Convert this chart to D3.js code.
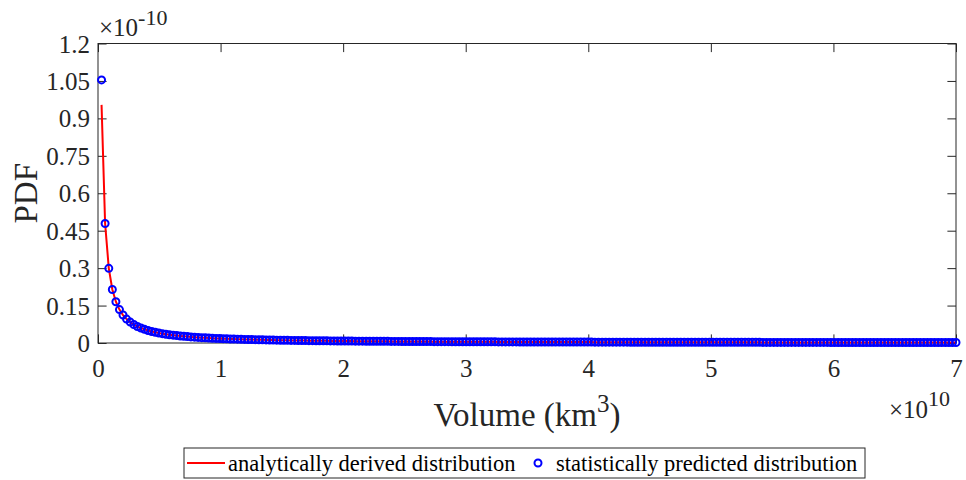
<!DOCTYPE html>
<html>
<head>
<meta charset="utf-8">
<script src="https://cdn.jsdelivr.net/npm/d3@7"></script>
<style>
  body { margin: 0; background: #fff; }
  svg { display: block; font-family: "Liberation Serif", "Times New Roman", serif; }
</style>
</head>
<body>
<svg id="chart" width="966" height="480"></svg>
<script>
// volume samples, in units of 1e10 km^3
const volume = [
  0.029,0.058,0.088,0.117,0.146,0.175,0.204,0.233,0.263,0.292,0.321,0.350,
  0.379,0.408,0.438,0.467,0.496,0.525,0.554,0.583,0.613,0.642,0.671,0.700,
  0.729,0.758,0.788,0.817,0.846,0.875,0.904,0.933,0.963,0.992,1.021,1.050,
  1.079,1.108,1.138,1.167,1.196,1.225,1.254,1.283,1.313,1.342,1.371,1.400,
  1.429,1.458,1.488,1.517,1.546,1.575,1.604,1.633,1.663,1.692,1.721,1.750,
  1.779,1.808,1.838,1.867,1.896,1.925,1.954,1.983,2.013,2.042,2.071,2.100,
  2.129,2.158,2.188,2.217,2.246,2.275,2.304,2.333,2.363,2.392,2.421,2.450,
  2.479,2.508,2.538,2.567,2.596,2.625,2.654,2.683,2.713,2.742,2.771,2.800,
  2.829,2.858,2.888,2.917,2.946,2.975,3.004,3.033,3.063,3.092,3.121,3.150,
  3.179,3.208,3.238,3.267,3.296,3.325,3.354,3.383,3.413,3.442,3.471,3.500,
  3.529,3.558,3.588,3.617,3.646,3.675,3.704,3.733,3.763,3.792,3.821,3.850,
  3.879,3.908,3.938,3.967,3.996,4.025,4.054,4.083,4.113,4.142,4.171,4.200,
  4.229,4.258,4.288,4.317,4.346,4.375,4.404,4.433,4.463,4.492,4.521,4.550,
  4.579,4.608,4.638,4.667,4.696,4.725,4.754,4.783,4.813,4.842,4.871,4.900,
  4.929,4.958,4.988,5.017,5.046,5.075,5.104,5.133,5.163,5.192,5.221,5.250,
  5.279,5.308,5.338,5.367,5.396,5.425,5.454,5.483,5.513,5.542,5.571,5.600,
  5.629,5.658,5.688,5.717,5.746,5.775,5.804,5.833,5.863,5.892,5.921,5.950,
  5.979,6.008,6.038,6.067,6.096,6.125,6.154,6.183,6.213,6.242,6.271,6.300,
  6.329,6.358,6.388,6.417,6.446,6.475,6.504,6.533,6.563,6.592,6.621,6.650,
  6.679,6.708,6.738,6.767,6.796,6.825,6.854,6.883,6.913,6.942,6.971,7.000
];

// analytically derived PDF, in units of 1e-10
const analyticPdf = [
  0.954,0.4788,0.2992,0.2143,0.1654,0.1339,0.1120,0.0959,0.0837,0.0740,
  0.0663,0.0599,0.0546,0.0501,0.0463,0.0429,0.0400,0.0374,0.0352,0.0331,
  0.0313,0.0297,0.0282,0.0268,0.0256,0.0244,0.0234,0.0224,0.0215,0.0207,
  0.0199,0.0192,0.0185,0.0179,0.0173,0.0168,0.0162,0.0157,0.0153,0.0148,
  0.0144,0.0140,0.01365,0.01329,0.01295,0.01262,0.01231,0.01201,0.01172,0.01144,
  0.01119,0.01094,0.01070,0.01047,0.01025,0.01004,0.00984,0.00964,0.00945,0.00926,
  0.00909,0.00892,0.00876,0.00860,0.00845,0.00830,0.00815,0.00801,0.00788,0.00775,
  0.00762,0.00750,0.00738,0.00727,0.00715,0.00704,0.00694,0.00683,0.00673,0.00663,
  0.00654,0.00645,0.00636,0.00627,0.00618,0.00610,0.00602,0.00594,0.00586,0.00579,
  0.00571,0.00564,0.00557,0.00550,0.00544,0.00537,0.00531,0.00524,0.00518,0.00512,
  0.00506,0.00501,0.00495,0.00490,0.00484,0.00479,0.00474,0.00469,0.00464,0.00459,
  0.00454,0.00449,0.00445,0.00440,0.00436,0.00431,0.00427,0.00423,0.00419,0.00415,
  0.00411,0.00407,0.00403,0.00399,0.00396,0.00392,0.00388,0.00385,0.00381,0.00378,
  0.00375,0.00371,0.00368,0.00365,0.00362,0.00359,0.00356,0.00353,0.00350,0.00347,
  0.00344,0.00341,0.00338,0.00336,0.00333,0.00330,0.00328,0.00325,0.00323,0.00320,
  0.00318,0.00315,0.00313,0.00310,0.00308,0.00306,0.00304,0.00301,0.00299,0.00297,
  0.00295,0.00293,0.00291,0.00289,0.00287,0.00285,0.00283,0.00281,0.00279,0.00277,
  0.00275,0.00273,0.00271,0.00269,0.00268,0.00266,0.00264,0.00262,0.00261,0.00259,
  0.00257,0.00256,0.00254,0.00253,0.00251,0.00249,0.00248,0.00246,0.00245,0.00243,
  0.00242,0.00240,0.00239,0.00237,0.00236,0.00235,0.00233,0.00232,0.00231,0.00229,
  0.00228,0.00227,0.00225,0.00224,0.00223,0.00222,0.00220,0.00219,0.00218,0.00217,
  0.00215,0.00214,0.00213,0.00212,0.00211,0.00210,0.00209,0.00207,0.00206,0.00205,
  0.00204,0.00203,0.00202,0.00201,0.00200,0.00199,0.00198,0.00197,0.00196,0.00195,
  0.00194,0.00193,0.00192,0.00191,0.00190,0.00189,0.00188,0.00187,0.00186,0.00186
];

// statistically predicted PDF: only the first sample stands apart from the curve,
// the rest sit on it
const predictedPdf = [1.054].concat(analyticPdf.slice(1));

const xTicks = [0, 1, 2, 3, 4, 5, 6, 7];
const yTicks = [0, 0.15, 0.3, 0.45, 0.6, 0.75, 0.9, 1.05, 1.2];
const yTickLabels = ['0', '0.15', '0.3', '0.45', '0.6', '0.75', '0.9', '1.05', '1.2'];

const AXIS = '#262626';
const LINE_RED = '#ff0000';
const MARK_BLUE = '#0000ff';

const svg = d3.select('#chart');
svg.append('rect').attr('width', 966).attr('height', 480).attr('fill', '#fff');

const margin = { top: 43.5, right: 10, bottom: 137, left: 98 };
const W = 966 - margin.left - margin.right;
const H = 480 - margin.top - margin.bottom;
const tick = 8.6;

const x = d3.scaleLinear().domain([0, 7]).range([0, W]);
const y = d3.scaleLinear().domain([0, 1.2]).range([H, 0]);

const g = svg.append('g').attr('transform', `translate(${margin.left},${margin.top})`);

// axes, ticks pointing inward on all four sides
const styleAxis = (sel) => {
  sel.selectAll('.domain').remove();
  sel.selectAll('.tick line').attr('stroke', AXIS).attr('stroke-width', 1);
  sel.selectAll('text').attr('fill', AXIS).attr('font-size', '25px')
    .attr('font-family', '"Liberation Serif", "Times New Roman", serif');
};

g.append('g').attr('class', 'x-axis').attr('transform', `translate(0,${H})`)
  .call(d3.axisBottom(x).tickValues(xTicks).tickFormat(d3.format('d')).tickSize(-tick).tickPadding(16))
  .call(styleAxis);
g.append('g')
  .call(d3.axisTop(x).tickValues(xTicks).tickFormat('').tickSize(-tick))
  .call(styleAxis);
g.append('g').attr('class', 'y-axis')
  .call(d3.axisLeft(y).tickValues(yTicks).tickFormat((d, i) => yTickLabels[i]).tickSize(-tick).tickPadding(8))
  .call(styleAxis);
g.append('g').attr('transform', `translate(${W},0)`)
  .call(d3.axisRight(y).tickValues(yTicks).tickFormat('').tickSize(-tick))
  .call(styleAxis);

g.selectAll('.y-axis .tick text').attr('dy', '0.34em');

g.append('rect').attr('width', W).attr('height', H)
  .attr('fill', 'none').attr('stroke', AXIS).attr('stroke-width', 1);

// analytic curve
const line = d3.line().x((d, i) => x(volume[i])).y(d => y(d));
g.append('path').datum(analyticPdf)
  .attr('d', line).attr('fill', 'none')
  .attr('stroke', LINE_RED).attr('stroke-width', 2);

// predicted markers
g.append('g').selectAll('circle').data(predictedPdf).join('circle')
  .attr('cx', (d, i) => x(volume[i])).attr('cy', d => y(d))
  .attr('r', 3.5).attr('fill', 'none')
  .attr('stroke', MARK_BLUE).attr('stroke-width', 2);

// exponent labels
const yExp = svg.append('text').attr('x', 99).attr('y', 36)
  .attr('fill', AXIS).attr('font-size', '25px');
yExp.append('tspan').text('\u00d710');
yExp.append('tspan').attr('dy', -11).attr('font-size', '22px').text('-10');

const xExp = svg.append('text').attr('x', 889).attr('y', 418)
  .attr('fill', AXIS).attr('font-size', '25px');
xExp.append('tspan').text('\u00d710');
xExp.append('tspan').attr('dy', -12).attr('font-size', '22px').text('10');

// axis titles
const xTitle = svg.append('text').attr('x', margin.left + W / 2).attr('y', 426)
  .attr('text-anchor', 'middle').attr('fill', AXIS).attr('font-size', '33px');
xTitle.append('tspan').text('Volume (km');
xTitle.append('tspan').attr('dy', -14).attr('font-size', '25px').text('3');
xTitle.append('tspan').attr('dy', 14).text(')');

svg.append('text')
  .attr('transform', `translate(37,${margin.top + H / 2}) rotate(-90)`)
  .attr('text-anchor', 'middle').attr('fill', AXIS).attr('font-size', '33px')
  .text('PDF');

// legend
const leg = svg.append('g').attr('transform', 'translate(184,448)');
leg.append('rect').attr('width', 681).attr('height', 30)
  .attr('fill', '#fff').attr('stroke', AXIS).attr('stroke-width', 1);
leg.append('line').attr('x1', 3).attr('x2', 41).attr('y1', 15).attr('y2', 15)
  .attr('stroke', LINE_RED).attr('stroke-width', 2);
leg.append('text').attr('x', 44).attr('y', 15).attr('dy', '0.34em')
  .attr('fill', '#000').attr('font-size', '22.5px').text('analytically derived distribution');
leg.append('circle').attr('cx', 354).attr('cy', 15).attr('r', 3.5)
  .attr('fill', 'none').attr('stroke', MARK_BLUE).attr('stroke-width', 2);
leg.append('text').attr('x', 372).attr('y', 15).attr('dy', '0.34em')
  .attr('fill', '#000').attr('font-size', '22.5px').text('statistically predicted distribution');
</script>
</body>
</html>
